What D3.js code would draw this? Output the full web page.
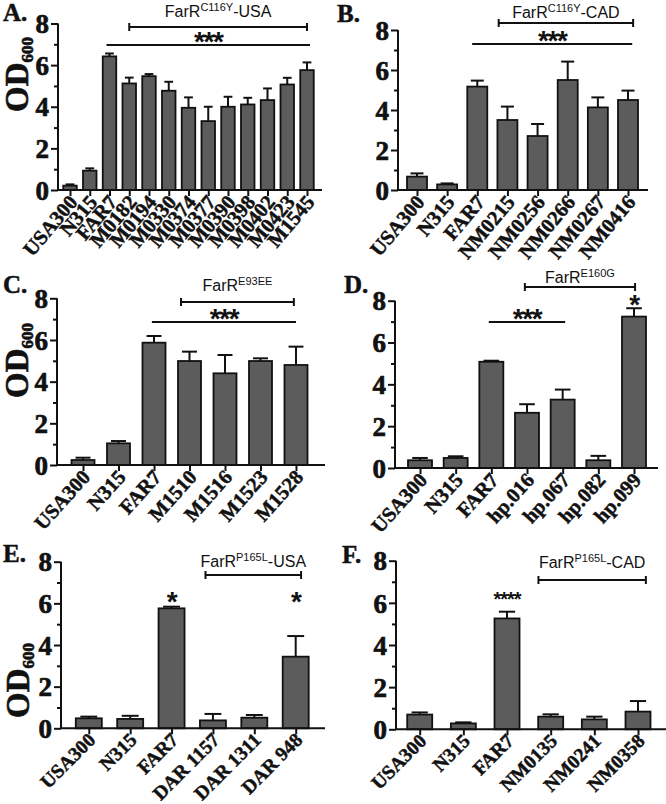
<!DOCTYPE html>
<html><head><meta charset="utf-8">
<script src="https://cdn.jsdelivr.net/npm/d3@7"></script>
<style>body{margin:0;background:#fff}</style>
</head><body>
<svg id="c" width="666" height="804" xmlns="http://www.w3.org/2000/svg"></svg>
<script>
// ---------- data ----------
const yTicks = [0, 2, 4, 6, 8];
const yMinor = [1, 3, 5, 7];

const catsA = ["USA300","N315","FAR7","M0182","M0194","M0330","M0374","M0377","M0390","M0398","M0402","M0423","M1545"];
const meanA = [0.21,0.93,6.42,5.12,5.47,4.77,3.95,3.31,4.00,4.11,4.32,5.07,5.76];
const errA  = [0.06,0.11,0.14,0.28,0.10,0.43,0.50,0.69,0.48,0.32,0.56,0.32,0.37];

const catsB = ["USA300","N315","FAR7","NM0215","NM0256","NM0266","NM0267","NM0416"];
const meanB = [0.67,0.28,5.17,3.50,2.70,5.50,4.13,4.50];
const errB  = [0.16,0.05,0.30,0.67,0.60,0.92,0.50,0.47];

const catsC = ["USA300","N315","FAR7","M1510","M1516","M1523","M1528"];
const meanC = [0.24,1.04,5.87,4.99,4.40,4.99,4.80];
const errC  = [0.11,0.11,0.32,0.45,0.88,0.13,0.88];

const catsD = ["USA300","N315","FAR7","hp.016","hp.067","hp.082","hp.099"];
const meanD = [0.37,0.48,5.08,2.64,3.27,0.37,7.24];
const errD  = [0.11,0.08,0.05,0.41,0.48,0.21,0.40];

const catsE = ["USA300","N315","FAR7","DAR 1157","DAR 1311","DAR 948"];
const meanE = [0.48,0.45,5.76,0.38,0.51,3.44];
const errE  = [0.08,0.15,0.08,0.31,0.13,0.99];

const catsF = ["USA300","N315","FAR7","NM0135","NM0241","NM0358"];
const meanF = [0.70,0.28,5.26,0.60,0.47,0.84];
const errF  = [0.10,0.05,0.32,0.11,0.13,0.50];

const panelLetters = ["A.","B.","C.","D.","E.","F."];
const groupTitles = [
  ["FarR","C116Y","-USA"],
  ["FarR","C116Y","-CAD"],
  ["FarR","E93EE",""],
  ["FarR","E160G",""],
  ["FarR","P165L","-USA"],
  ["FarR","P165L","-CAD"]
];
const yTitle = ["OD","600"];

// ---------- layout ----------
const panels = [
  {cats:catsA, mean:meanA, err:errA, ax:58,  axEnd:322, y0:190, y8:23.5, c0:70,  c1:307, bw:13.5,
   letter:[3,21], ytitle:[28,112], titleY:17, lab:20.5, ang:-50,
   bracket:[3,12.0,27], line:[1.85,12.15,45,"***"], stars:[]},
  {cats:catsB, mean:meanB, err:errB, ax:398, axEnd:648, y0:190, y8:30,   c0:417, c1:628, bw:20,
   letter:[337,22], ytitle:null, titleY:18, lab:20.5, ang:-50,
   bracket:[2.71,7.17,23], line:[1.83,7.14,44,"***"], stars:[]},
  {cats:catsC, mean:meanC, err:errC, ax:57,  axEnd:325, y0:465, y8:298.3, c0:83, c1:296, bw:23,
   letter:[3,293], ytitle:[28,398], titleY:291, lab:20.5, ang:-48,
   bracket:[2.76,5.94,302], line:[1.94,6.0,322,"***"], stars:[]},
  {cats:catsD, mean:meanD, err:errD, ax:395, axEnd:658, y0:468, y8:300.7, c0:420, c1:634, bw:24,
   letter:[344,293], ytitle:null, titleY:283, lab:20.5, ang:-48,
   bracket:[2.94,6.03,287], line:[1.93,4.07,322,"***"], stars:[[6,304,"*",28]]},
  {cats:catsE, mean:meanE, err:errE, ax:61,  axEnd:325, y0:728.3, y8:561.7, c0:88.8, c1:295.7, bw:26,
   letter:[3,562], ytitle:[29,718], titleY:567, lab:19.5, ang:-45,
   bracket:[2.82,5.13,575], line:null, stars:[[2,601,"*",28],[5,601,"*",28]]},
  {cats:catsF, mean:meanF, err:errF, ax:396, axEnd:666, y0:729.3, y8:560.7, c0:419.7, c1:638, bw:25,
   letter:[342,563], ytitle:null, titleY:568, lab:19.5, ang:-45,
   bracket:[2.72,5.18,580], line:null, stars:[[2,599,"****",20]]}
];

const svg = d3.select("#c");
const serif = "'Liberation Serif','Times New Roman',Times,serif";
const sans = "'Liberation Sans',Arial,Helvetica,sans-serif";

function drawStars(g, x, yBottom, str, size) {
  g.append("text")
    .attr("x", x).attr("y", yBottom + 0.36 * size)
    .attr("text-anchor", "middle")
    .attr("font-family", sans).attr("font-weight", "bold")
    .attr("font-size", size).attr("letter-spacing", -size * 0.05)
    .attr("fill", "#111").text(str);
}

panels.forEach((p, pi) => {
  const g = svg.append("g");
  const n = p.cats.length;
  const x = d3.scalePoint().domain(p.cats).range([p.c0, p.c1]);
  const xi = d3.scaleLinear().domain([0, n - 1]).range([p.c0, p.c1]);
  const y = d3.scaleLinear().domain([0, 8]).range([p.y0, p.y8]);

  // bars
  g.selectAll("rect.bar").data(p.cats).join("rect")
    .attr("class", "bar")
    .attr("x", d => x(d) - p.bw / 2)
    .attr("width", p.bw)
    .attr("y", (d, i) => y(p.mean[i]))
    .attr("height", (d, i) => y(0) - y(p.mean[i]))
    .attr("fill", "#5c5c5c").attr("stroke", "#111").attr("stroke-width", 1.8);

  // error bars (upper)
  const capW = p.bw * 0.65;
  p.cats.forEach((d, i) => {
    const top = y(p.mean[i] + p.err[i]);
    g.append("line").attr("x1", x(d)).attr("x2", x(d))
      .attr("y1", y(p.mean[i])).attr("y2", top)
      .attr("stroke", "#111").attr("stroke-width", 2);
    g.append("line").attr("x1", x(d) - capW / 2).attr("x2", x(d) + capW / 2)
      .attr("y1", top).attr("y2", top)
      .attr("stroke", "#111").attr("stroke-width", 2);
  });

  // y axis
  const ya = g.append("g").attr("transform", `translate(${p.ax},0)`)
    .call(d3.axisLeft(y).tickValues(yTicks).tickSize(7).tickFormat(d3.format("d")));
  ya.select(".domain").attr("d", `M0,${y(0)}V${y(8)}`).attr("stroke", "#111").attr("stroke-width", 2);
  ya.selectAll(".tick line").attr("stroke", "#111").attr("stroke-width", 2);
  ya.selectAll(".tick text").attr("font-family", serif).attr("font-weight", "bold")
    .attr("font-size", 27).attr("fill", "#111").attr("stroke", "#111").attr("stroke-width", 0.7)
    .attr("x", -9).attr("dy", "0.34em");
  const ym = g.append("g").attr("transform", `translate(${p.ax},0)`)
    .call(d3.axisLeft(y).tickValues(yMinor).tickSize(4).tickFormat(""));
  ym.select(".domain").remove();
  ym.selectAll(".tick line").attr("stroke", "#111").attr("stroke-width", 2);

  // x axis
  const xa = g.append("g").attr("transform", `translate(0,${p.y0})`)
    .call(d3.axisBottom(x).tickSize(6).tickFormat(""));
  xa.select(".domain").attr("d", `M${p.ax},0H${p.axEnd}`).attr("stroke", "#111").attr("stroke-width", 2);
  xa.selectAll(".tick line").attr("stroke", "#111").attr("stroke-width", 2);

  // x labels
  g.selectAll("text.xl").data(p.cats).join("text")
    .attr("class", "xl")
    .attr("transform", d => `translate(${x(d) + 3},${p.y0 + 8}) rotate(${p.ang})`)
    .attr("text-anchor", "end").attr("dy", "0.35em")
    .attr("font-family", serif).attr("font-weight", "bold").attr("font-size", p.lab)
    .attr("fill", "#111").attr("stroke", "#111").attr("stroke-width", 0.5)
    .text(d => d);

  // panel letter
  g.append("text").attr("x", p.letter[0]).attr("y", p.letter[1])
    .attr("font-family", serif).attr("font-weight", "bold").attr("font-size", 25)
    .attr("fill", "#111").attr("stroke", "#111").attr("stroke-width", 0.5)
    .text(panelLetters[pi]);

  // y title
  if (p.ytitle) {
    const t = g.append("text")
      .attr("transform", `translate(${p.ytitle[0]},${p.ytitle[1]}) rotate(-90)`)
      .attr("font-family", serif).attr("font-weight", "bold").attr("font-size", 33)
      .attr("fill", "#111").attr("stroke", "#111").attr("stroke-width", 0.6);
    t.append("tspan").text(yTitle[0]);
    t.append("tspan").attr("font-size", 17).attr("dy", 5).text(yTitle[1]);
  }

  // bracket
  const [b0, b1, by] = p.bracket;
  g.append("line").attr("x1", xi(b0)).attr("x2", xi(b1)).attr("y1", by).attr("y2", by)
    .attr("stroke", "#111").attr("stroke-width", 2);
  [b0, b1].forEach(b => g.append("line").attr("x1", xi(b)).attr("x2", xi(b))
    .attr("y1", by - 4).attr("y2", by + 4).attr("stroke", "#111").attr("stroke-width", 2));
  const tt = g.append("text").attr("x", (xi(b0) + xi(b1)) / 2).attr("y", p.titleY)
    .attr("text-anchor", "middle").attr("font-family", sans).attr("font-size", 16).attr("fill", "#111");
  const gt = groupTitles[pi];
  tt.append("tspan").text(gt[0]);
  tt.append("tspan").attr("font-size", 11).attr("dy", -6).text(gt[1]);
  if (gt[2]) tt.append("tspan").attr("font-size", 16).attr("dy", 6).text(gt[2]);

  // significance line
  if (p.line) {
    const [l0, l1, ly, s] = p.line;
    g.append("line").attr("x1", xi(l0)).attr("x2", xi(l1)).attr("y1", ly).attr("y2", ly)
      .attr("stroke", "#111").attr("stroke-width", 2);
    drawStars(g, (xi(l0) + xi(l1)) / 2, ly - 4, s, 28);
  }
  p.stars.forEach(s => drawStars(g, xi(s[0]), s[1], s[2], s[3]));
});
</script>
</body></html>
